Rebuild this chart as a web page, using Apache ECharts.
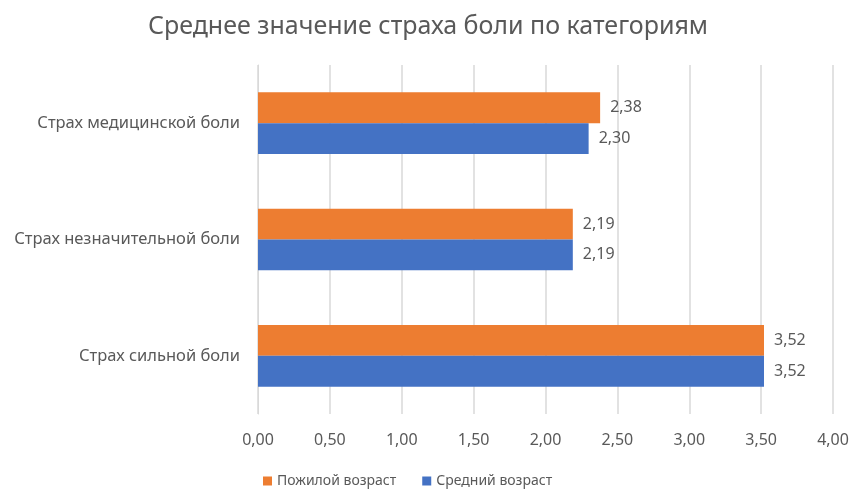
<!DOCTYPE html>
<html>
<head>
<meta charset="utf-8">
<script src="https://cdn.jsdelivr.net/npm/echarts@6/dist/echarts.min.js"></script>
<style>html,body{margin:0;padding:0;background:#fff}#c{width:856px;height:491px}</style>
</head>
<body>
<div id="c"></div>
<script>
const categories = ['Страх сильной боли', 'Страх незначительной боли', 'Страх медицинской боли'];
const seriesNames = ['Пожилой возраст', 'Средний возраст'];
const elderly = [3.52, 2.19, 2.38];
const middleAge = [3.52, 2.19, 2.30];
const legendOrder = ['Пожилой возраст', 'Средний возраст'];

const FONT = 'Noto Sans';
const fmt = v => Number(v).toFixed(2).replace('.', ',');
const chart = echarts.init(document.getElementById('c'), null, {renderer: 'canvas'});
chart.setOption({
  animation: false,
  textStyle: {fontFamily: FONT},
  title: {
    text: 'Среднее значение страха боли по категориям',
    left: 'center', top: 9,
    textStyle: {fontFamily: FONT, fontSize: 25, fontWeight: 'normal', color: '#595959'}
  },
  legend: {
    data: legendOrder,
    top: 469, left: 258,
    icon: 'rect', itemWidth: 9, itemHeight: 9, itemGap: 26,
    textStyle: {fontFamily: FONT, fontSize: 14, color: '#595959'}
  },
  grid: {left: 258, right: 23, top: 65, bottom: 77, containLabel: false},
  xAxis: {
    type: 'value', min: 0, max: 4, interval: 0.5,
    axisLine: {show: false}, axisTick: {show: false},
    splitLine: {lineStyle: {color: '#D9D9D9', width: 1.5}},
    axisLabel: {formatter: fmt, margin: 18, fontFamily: FONT, fontSize: 16, color: '#595959'}
  },
  yAxis: {
    type: 'category', data: categories,
    axisLine: {lineStyle: {color: '#D9D9D9'}}, axisTick: {show: false},
    axisLabel: {margin: 18, fontFamily: FONT, fontSize: 16.5, color: '#595959'}
  },
  series: [
    {name: seriesNames[0], type: 'bar', data: elderly, barGap: '0%', barCategoryGap: '47%',
     itemStyle: {color: '#ED7D31'},
     label: {show: true, position: 'right', distance: 10, formatter: p => fmt(p.value), fontFamily: FONT, fontSize: 16, color: '#595959'}},
    {name: seriesNames[1], type: 'bar', data: middleAge, barGap: '0%', barCategoryGap: '47%',
     itemStyle: {color: '#4472C4'},
     label: {show: true, position: 'right', distance: 10, formatter: p => fmt(p.value), fontFamily: FONT, fontSize: 16, color: '#595959'}}
  ]
});
</script>
</body>
</html>
